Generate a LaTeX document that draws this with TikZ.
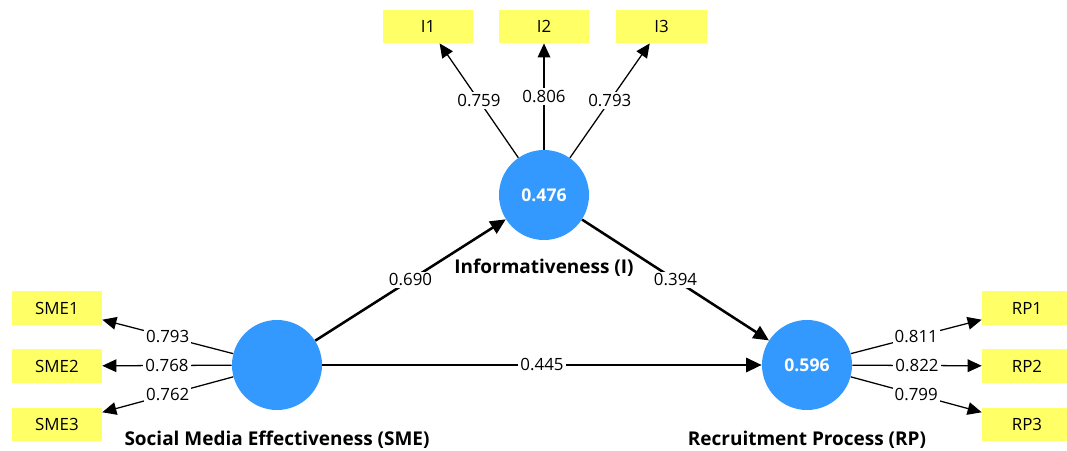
\documentclass[tikz,border=0pt]{standalone}
\usepackage{fontspec}
\setmainfont{Open Sans}
\usetikzlibrary{arrows.meta, positioning}
\definecolor{lvblue}{RGB}{51, 153, 255}
\definecolor{mvyellow}{RGB}{255, 255, 102}
\tikzset{
  lv/.style={circle, fill=lvblue, minimum size=2.25cm, inner sep=0pt, text=white, font=\fontsize{12.5}{15}\selectfont\bfseries},
  mv/.style={rectangle, fill=mvyellow, minimum width=2.25cm, minimum height=0.83cm, inner sep=0pt, font=\fontsize{12}{14}\selectfont},
  lvname/.style={inner sep=0pt, font=\fontsize{13.5}{16}\selectfont\bfseries},
  coef/.style={fill=white, inner sep=1.5pt, font=\fontsize{12}{14}\selectfont},
  loading/.style={-{Triangle[length=10pt, width=9pt]}, line width=0.9pt},
  structural/.style={-{Triangle[length=11pt, width=10pt]}, line width=1.8pt}
}

\begin{document}
\begin{tikzpicture}[x=0.025cm, y=-0.025cm]
    \useasboundingbox (0,0) rectangle (1067,451);
    % latent variables
    \node[lv] (I) at (544,195) {0.476};
    \node[lv] (SME) at (277,365) {};
    \node[lv] (RP) at (807,365) {0.596};
    \node[lvname, below=0.46cm of I] (Iname) {Informativeness (I)};
    \node[lvname, below=0.5cm of SME] (SMEname) {Social Media Effectiveness (SME)};
    \node[lvname, below=0.5cm of RP] (RPname) {Recruitment Process (RP)};
    % indicators
    \node[mv] (I1) at (428,26.5) {I1};
    \node[mv] (I2) at (544,26.5) {I2};
    \node[mv] (I3) at (661.5,26.5) {I3};
    \node[mv] (SME1) at (57,308) {SME1};
    \node[mv] (SME2) at (57,366) {SME2};
    \node[mv] (SME3) at (57,424.5) {SME3};
    \node[mv] (RP1) at (1027,308) {RP1};
    \node[mv] (RP2) at (1027,366) {RP2};
    \node[mv] (RP3) at (1027,424.5) {RP3};
    % outer loadings
    \foreach \m/\v in {I1/0.759, I2/0.806, I3/0.793}
        \draw[loading] (I) -- (\m) node[coef, midway] {\v};
    \foreach \m/\v in {SME1/0.793, SME2/0.768, SME3/0.762}
        \draw[loading] (SME) -- (\m) node[coef, midway] {\v};
    \foreach \m/\v in {RP1/0.811, RP2/0.822, RP3/0.799}
        \draw[loading] (RP) -- (\m) node[coef, midway] {\v};
    % path coefficients
    \draw[structural] (SME) -- (I) node[coef, midway] {0.690};
    \draw[structural] (I) -- (RP) node[coef, midway] {0.394};
    \draw[structural] (SME) -- (RP) node[coef, midway] {0.445};
\end{tikzpicture}
\end{document}
